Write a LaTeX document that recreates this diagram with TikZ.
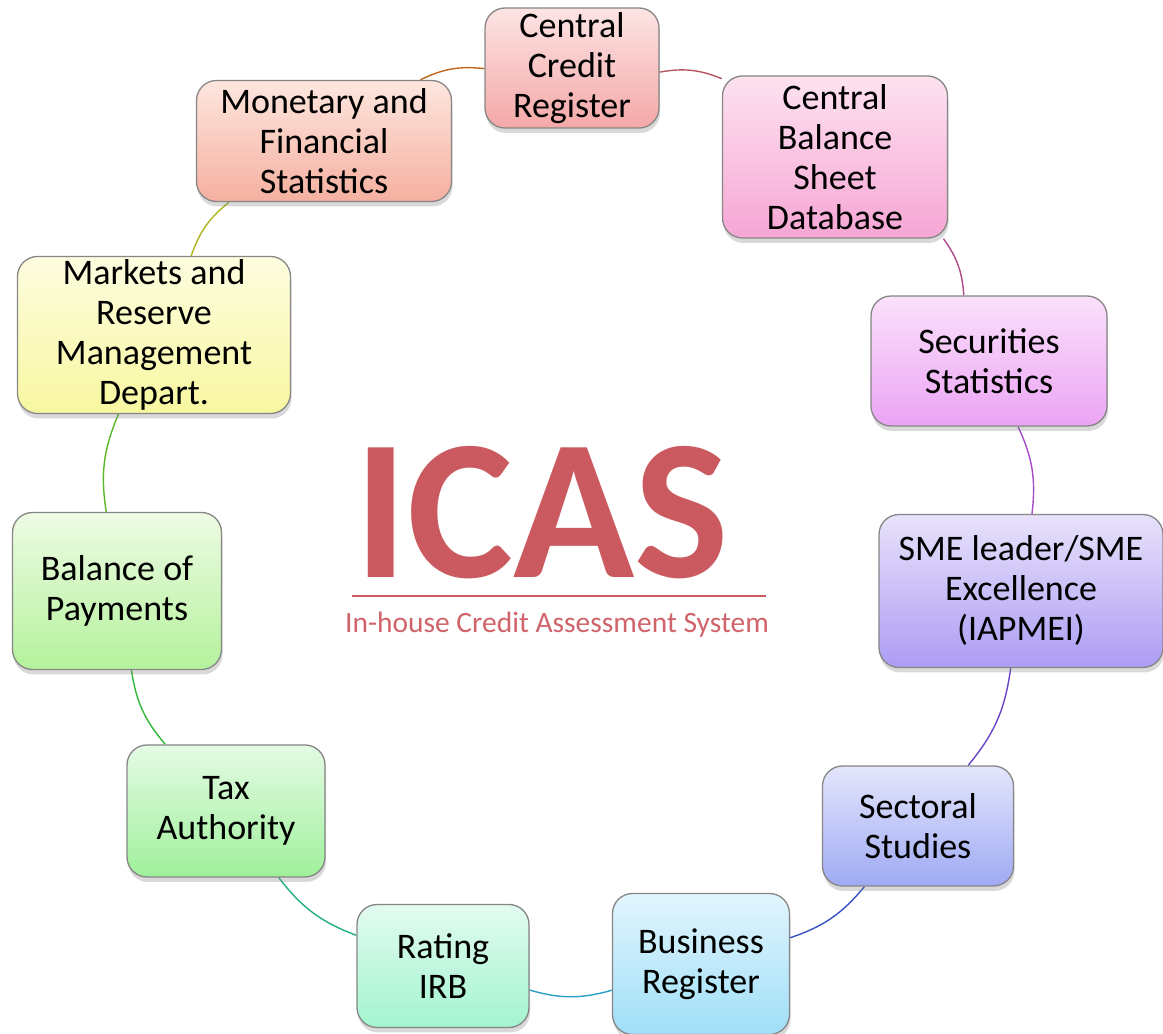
\documentclass[tikz,border=0pt]{standalone}
\usepackage{fontspec}
\setmainfont{Carlito}
\usetikzlibrary{shadows,backgrounds}
\colorlet{box edge}{gray!95}
\definecolor{icas red}{HTML}{CA5A5F}
\definecolor{icas sub}{HTML}{D0646A}
% box shades, top / bottom
\definecolor{ccr top}{HTML}{FDE4E4}\definecolor{ccr bot}{HTML}{F4A8A8}
\definecolor{cbsd top}{HTML}{FDE2F0}\definecolor{cbsd bot}{HTML}{F6A6D4}
\definecolor{sec top}{HTML}{FBE0FB}\definecolor{sec bot}{HTML}{EBA4F4}
\definecolor{sme top}{HTML}{E8E2FB}\definecolor{sme bot}{HTML}{AD9CF4}
\definecolor{sect top}{HTML}{E4E6FB}\definecolor{sect bot}{HTML}{9FAAF4}
\definecolor{bus top}{HTML}{E2F5FD}\definecolor{bus bot}{HTML}{9FDFF8}
\definecolor{irb top}{HTML}{E2FBF0}\definecolor{irb bot}{HTML}{A3F4CF}
\definecolor{tax top}{HTML}{E4FBE4}\definecolor{tax bot}{HTML}{A0F09C}
\definecolor{bop top}{HTML}{EEFBE4}\definecolor{bop bot}{HTML}{B4F29C}
\definecolor{mkt top}{HTML}{FDFDE0}\definecolor{mkt bot}{HTML}{F8F7A0}
\definecolor{mfs top}{HTML}{FDE6DE}\definecolor{mfs bot}{HTML}{F5B0A0}
% connector colours
\definecolor{link a}{HTML}{B55560}
\definecolor{link b}{HTML}{B04888}
\definecolor{link c}{HTML}{A64CC8}
\definecolor{link d}{HTML}{6A44C8}
\definecolor{link e}{HTML}{3552C0}
\definecolor{link f}{HTML}{2AA0C8}
\definecolor{link g}{HTML}{22B07A}
\definecolor{link h}{HTML}{30B838}
\definecolor{link i}{HTML}{58B828}
\definecolor{link j}{HTML}{B0B420}
\definecolor{link k}{HTML}{C0661A}
\tikzset{source/.style={draw=box edge, line width=1.3pt, rounded corners=20pt,
    align=center, inner sep=0pt, font=\fontsize{36}{40}\selectfont,
    drop shadow={opacity=0.3, shadow xshift=1pt, shadow yshift=-5pt}},
    link/.style={line width=1.4pt}}

\begin{document}
\begin{tikzpicture}[x=1pt,y=1pt]
\useasboundingbox (0,0) rectangle (1163,1034);
% sources round the ring
\node[source, top color=ccr top, bottom color=ccr bot, minimum width=174pt, minimum height=120pt] (ccr) at (572,966) {Central\\Credit\\Register};
\node[source, top color=cbsd top, bottom color=cbsd bot, minimum width=225pt, minimum height=162pt] (cbsd) at (835,877) {Central\\Balance\\Sheet\\Database};
\node[source, top color=sec top, bottom color=sec bot, minimum width=236pt, minimum height=130pt] (secstat) at (989,673) {Securities\\Statistics};
\node[source, top color=sme top, bottom color=sme bot, minimum width=284pt, minimum height=153pt] (sme) at (1021,443) {SME leader/SME\\Excellence\\(IAPMEI)};
\node[source, top color=sect top, bottom color=sect bot, minimum width=191pt, minimum height=120pt] (sectoral) at (918,208) {Sectoral\\Studies};
\node[source, top color=bus top, bottom color=bus bot, minimum width=177pt, minimum height=141pt] (busreg) at (701,70) {Business\\Register};
\node[source, top color=irb top, bottom color=irb bot, minimum width=172pt, minimum height=123pt] (irb) at (443,68) {Rating\\IRB};
\node[source, top color=tax top, bottom color=tax bot, minimum width=198pt, minimum height=132pt] (tax) at (226,223) {Tax\\Authority};
\node[source, top color=bop top, bottom color=bop bot, minimum width=209pt, minimum height=157pt] (bop) at (117,443) {Balance of\\Payments};
\node[source, top color=mkt top, bottom color=mkt bot, minimum width=273pt, minimum height=157pt] (markets) at (154,699) {Markets and\\Reserve\\Management\\Depart.};
\node[source, top color=mfs top, bottom color=mfs bot, minimum width=255pt, minimum height=121pt] (mfs) at (324,893) {Monetary and\\Financial\\Statistics};
% ring
\begin{scope}[on background layer]
\foreach \from/\to/\col in {ccr/cbsd/link a, cbsd/secstat/link b, secstat/sme/link c,
    sme/sectoral/link d, sectoral/busreg/link e, busreg/irb/link f, irb/tax/link g,
    tax/bop/link h, bop/markets/link i, markets/mfs/link j, mfs/ccr/link k}
  \draw[link, \col] (\from) to[bend left=16] (\to);
\end{scope}
% title in the middle
\node[anchor=base, inner sep=0pt, text=icas red, font=\fontsize{200}{200}\selectfont\bfseries] (icas) at (542,456) {ICAS};
\draw[icas red, line width=1.4pt] (352,438) -- (766,438);
\node[anchor=base, inner sep=0pt, text=icas sub, font=\fontsize{29.5}{31}\selectfont] (icassub) at (557,401) {In-house Credit Assessment System};
\end{tikzpicture}
\end{document}
